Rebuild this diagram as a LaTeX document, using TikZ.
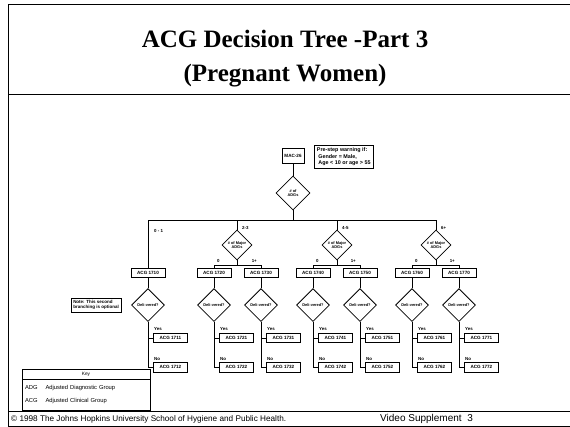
\documentclass[tikz,border=0pt]{standalone}
\usepackage{fontspec}
\setmainfont{Liberation Serif}
\setsansfont{Liberation Sans}
\usetikzlibrary{arrows}
\usetikzlibrary{positioning}
\usetikzlibrary{shapes.geometric}

\begin{document}
\begin{tikzpicture}[x=1pt,y=-1pt]

	\tikzset{BoxStyle/.style = {draw, thick,
			font = \sffamily\bfseries\fontsize{4.6}{5.4}\selectfont,
			minimum width = 34pt,
			minimum height = 9.5pt,
			inner sep = 1pt}}
	\tikzset{DiamondStyle/.style = {draw, thick, shape = diamond,
			aspect = 1, inner sep = 0pt,
			minimum size = 30pt, align = center,
			font = \sffamily\bfseries\fontsize{3.9}{4.5}\selectfont}}
	\tikzset{LabelStyle/.style = {inner sep = 1pt,
			font = \sffamily\bfseries\fontsize{4.4}{5}\selectfont}}
	\tikzset{EdgeStyle/.style = {thick}}
	\tikzset{FrameStyle/.style = {line width = 0.7pt}}

	\useasboundingbox (0,0) rectangle (570,427);

	% frame and title
	\coordinate (tl) at (8,4);
	\coordinate (tr) at (570,4);
	\coordinate (bl) at (8,427);
	\coordinate (sl) at (8,94);
	\coordinate (sr) at (570,94);
	\coordinate (fl) at (8,411);
	\coordinate (fr) at (570,411);
	\coordinate (el) at (8,426);
	\coordinate (er) at (570,426);
	\draw[FrameStyle] (tr) -- (tl) -- (bl);
	\draw[FrameStyle] (sl) -- (sr);
	\draw[FrameStyle] (fl) -- (fr);
	\draw[FrameStyle] (el) -- (er);

	\node[font=\bfseries\fontsize{25}{30}\selectfont](title1) at (285,39){ACG Decision Tree -Part 3};
	\node[font=\bfseries\fontsize{25}{30}\selectfont](title2) at (285,76){(Pregnant Women)};

	% top of the tree
	\node[BoxStyle, minimum width=22pt, minimum height=15pt](mac) at (293,156){MAC-26};
	\node[BoxStyle, align=left, minimum width=0pt, inner sep=2.5pt, anchor=west,
		font=\sffamily\bfseries\fontsize{5.4}{6.4}\selectfont](prestep) at (314,157){Pre-step warning if:\\ \ Gender = Male,\\ \ Age < 10 or age > 55};
	\node[DiamondStyle, minimum size=34pt](adgs) at (293,193){\# of\\ADGs};
	\coordinate (bar) at (293,220);

	\node[DiamondStyle](maj23) at (237,245){\# of Major\\ADGs};
	\node[DiamondStyle](maj45) at (337,245){\# of Major\\ADGs};
	\node[DiamondStyle](maj6) at (436,245){\# of Major\\ADGs};

	\node[LabelStyle, anchor=west](l01) at (153,231){0 - 1};
	\node[LabelStyle, anchor=west](l23) at (241,228){2-3};
	\node[LabelStyle, anchor=west](l45) at (341,228){4-5};
	\node[LabelStyle, anchor=west](l6) at (440,228){6+};

	\draw[EdgeStyle](mac) to (adgs);
	\draw[EdgeStyle](adgs) to (bar);
	\draw[EdgeStyle](bar) -| (maj23);
	\draw[EdgeStyle](bar) -| (maj45);
	\draw[EdgeStyle](bar) -| (maj6);

	% ACG groups
	\node[BoxStyle](acg1710) at (148,273){ACG 1710};
	\node[BoxStyle](acg1720) at (214,273){ACG 1720};
	\node[BoxStyle](acg1730) at (261,273){ACG 1730};
	\node[BoxStyle](acg1740) at (313,273){ACG 1740};
	\node[BoxStyle](acg1750) at (360,273){ACG 1750};
	\node[BoxStyle](acg1760) at (412,273){ACG 1760};
	\node[BoxStyle](acg1770) at (459,273){ACG 1770};

	\draw[EdgeStyle](bar) -| (acg1710);

	\coordinate[below=5pt of maj23.south](sub23);
	\coordinate[below=5pt of maj45.south](sub45);
	\coordinate[below=5pt of maj6.south](sub6);
	\draw[EdgeStyle](maj23) to (sub23);
	\draw[EdgeStyle](maj45) to (sub45);
	\draw[EdgeStyle](maj6) to (sub6);
	\draw[EdgeStyle](sub23) -| (acg1720);
	\draw[EdgeStyle](sub23) -| (acg1730);
	\draw[EdgeStyle](sub45) -| (acg1740);
	\draw[EdgeStyle](sub45) -| (acg1750);
	\draw[EdgeStyle](sub6) -| (acg1760);
	\draw[EdgeStyle](sub6) -| (acg1770);

	\node[LabelStyle, anchor=south west](z23) at (216,264){0};
	\node[LabelStyle, anchor=south east](p23) at (258,264){1+};
	\node[LabelStyle, anchor=south west](z45) at (315,264){0};
	\node[LabelStyle, anchor=south east](p45) at (357,264){1+};
	\node[LabelStyle, anchor=south west](z6) at (414,264){0};
	\node[LabelStyle, anchor=south east](p6) at (456,264){1+};

	% delivered?
	\node[DiamondStyle, minimum size=33pt, below=10pt of acg1710](del1710){Deli-vered?};
	\node[DiamondStyle, minimum size=33pt, below=10pt of acg1720](del1720){Deli-vered?};
	\node[DiamondStyle, minimum size=33pt, below=10pt of acg1730](del1730){Deli-vered?};
	\node[DiamondStyle, minimum size=33pt, below=10pt of acg1740](del1740){Deli-vered?};
	\node[DiamondStyle, minimum size=33pt, below=10pt of acg1750](del1750){Deli-vered?};
	\node[DiamondStyle, minimum size=33pt, below=10pt of acg1760](del1760){Deli-vered?};
	\node[DiamondStyle, minimum size=33pt, below=10pt of acg1770](del1770){Deli-vered?};

	\draw[EdgeStyle](acg1710) to (del1710);
	\draw[EdgeStyle](acg1720) to (del1720);
	\draw[EdgeStyle](acg1730) to (del1730);
	\draw[EdgeStyle](acg1740) to (del1740);
	\draw[EdgeStyle](acg1750) to (del1750);
	\draw[EdgeStyle](acg1760) to (del1760);
	\draw[EdgeStyle](acg1770) to (del1770);

	\node[BoxStyle, draw, thin, align=left, minimum width=0pt, inner sep=2pt,
		font=\sffamily\bfseries\fontsize{4.5}{5.3}\selectfont](note) at (96,305){Note: This second\\branching is optional};

	% yes and no boxes
	\node[BoxStyle, below right=11pt and 5pt of del1710.south](acg1711){ACG 1711};
	\node[BoxStyle, below right=11pt and 5pt of del1720.south](acg1721){ACG 1721};
	\node[BoxStyle, below right=11pt and 5pt of del1730.south](acg1731){ACG 1731};
	\node[BoxStyle, below right=11pt and 5pt of del1740.south](acg1741){ACG 1741};
	\node[BoxStyle, below right=11pt and 5pt of del1750.south](acg1751){ACG 1751};
	\node[BoxStyle, below right=11pt and 5pt of del1760.south](acg1761){ACG 1761};
	\node[BoxStyle, below right=11pt and 5pt of del1770.south](acg1771){ACG 1771};

	\node[BoxStyle, below=19pt of acg1711](acg1712){ACG 1712};
	\node[BoxStyle, below=19pt of acg1721](acg1722){ACG 1722};
	\node[BoxStyle, below=19pt of acg1731](acg1732){ACG 1732};
	\node[BoxStyle, below=19pt of acg1741](acg1742){ACG 1742};
	\node[BoxStyle, below=19pt of acg1751](acg1752){ACG 1752};
	\node[BoxStyle, below=19pt of acg1761](acg1762){ACG 1762};
	\node[BoxStyle, below=19pt of acg1771](acg1772){ACG 1772};

	\draw[EdgeStyle](del1710.south) |- (acg1711.west);
	\draw[EdgeStyle](del1710.south) |- (acg1712.west);
	\draw[EdgeStyle](del1720.south) |- (acg1721.west);
	\draw[EdgeStyle](del1720.south) |- (acg1722.west);
	\draw[EdgeStyle](del1730.south) |- (acg1731.west);
	\draw[EdgeStyle](del1730.south) |- (acg1732.west);
	\draw[EdgeStyle](del1740.south) |- (acg1741.west);
	\draw[EdgeStyle](del1740.south) |- (acg1742.west);
	\draw[EdgeStyle](del1750.south) |- (acg1751.west);
	\draw[EdgeStyle](del1750.south) |- (acg1752.west);
	\draw[EdgeStyle](del1760.south) |- (acg1761.west);
	\draw[EdgeStyle](del1760.south) |- (acg1762.west);
	\draw[EdgeStyle](del1770.south) |- (acg1771.west);
	\draw[EdgeStyle](del1770.south) |- (acg1772.west);

	\node[LabelStyle, above right=1pt and 0pt of acg1711.north west](y1710){Yes};
	\node[LabelStyle, above right=1pt and 0pt of acg1721.north west](y1720){Yes};
	\node[LabelStyle, above right=1pt and 0pt of acg1731.north west](y1730){Yes};
	\node[LabelStyle, above right=1pt and 0pt of acg1741.north west](y1740){Yes};
	\node[LabelStyle, above right=1pt and 0pt of acg1751.north west](y1750){Yes};
	\node[LabelStyle, above right=1pt and 0pt of acg1761.north west](y1760){Yes};
	\node[LabelStyle, above right=1pt and 0pt of acg1771.north west](y1770){Yes};

	\node[LabelStyle, above right=1pt and 0pt of acg1712.north west](n1710){No};
	\node[LabelStyle, above right=1pt and 0pt of acg1722.north west](n1720){No};
	\node[LabelStyle, above right=1pt and 0pt of acg1732.north west](n1730){No};
	\node[LabelStyle, above right=1pt and 0pt of acg1742.north west](n1740){No};
	\node[LabelStyle, above right=1pt and 0pt of acg1752.north west](n1750){No};
	\node[LabelStyle, above right=1pt and 0pt of acg1762.north west](n1760){No};
	\node[LabelStyle, above right=1pt and 0pt of acg1772.north west](n1770){No};

	% key
	\node[draw, thin, minimum width=128pt, minimum height=10pt, inner sep=1pt,
		font=\sffamily\fontsize{4.8}{5}\selectfont](keyhead) at (86,374){Key};
	\node[draw, thin, below=0pt of keyhead, minimum width=128pt, minimum height=31pt,
		text width=122pt, inner sep=3pt, font=\sffamily\fontsize{5.8}{13}\selectfont](keybody){%
		ADG\hspace{8pt}Adjusted Diagnostic Group\\ACG\hspace{8pt}Adjusted Clinical Group};

	% footer
	\node[anchor=west, inner sep=0pt, font=\sffamily\fontsize{8.2}{9}\selectfont](copyr) at (11,419){\copyright\ 1998 The Johns Hopkins University School of Hygiene and Public Health.};
	\node[anchor=west, inner sep=0pt, font=\sffamily\fontsize{10}{11}\selectfont](video) at (380,419){Video Supplement\ \ 3};

\end{tikzpicture}
\end{document}
